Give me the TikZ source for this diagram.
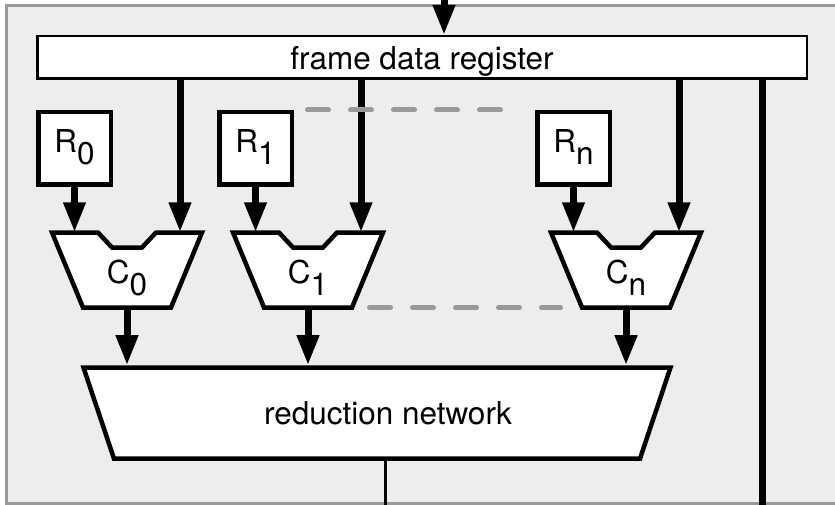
\documentclass[tikz,border=0pt]{standalone}
\usepackage{fontspec}
\setmainfont{TeX Gyre Heros}
\usepackage{xcolor}
\usetikzlibrary{arrows.meta,shapes.geometric,calc}
\definecolor{panel}{HTML}{EDEDED}
\definecolor{dashgray}{HTML}{999999}
\newcommand\lowsub[1]{\lower12pt\hbox{#1}}

\begin{document}
\begin{tikzpicture}[
  x=1pt, y=-1pt,
  font=\fontsize{31.5}{37}\selectfont,
  >={Triangle[length=30pt,width=21pt]},
  arr/.style={->, line width=7pt},
  bus/.style={line width=7pt},
  bar/.style={draw, fill=white, line width=2.5pt, minimum width=769.5pt, minimum height=42.5pt, inner sep=0pt, text depth=0pt},
  rbox/.style={draw, fill=white, line width=4.5pt, minimum size=72.5pt, inner sep=0pt},
  shell/.style={draw, fill=white, line width=4.5pt},
  unit/.style={minimum width=150pt, minimum height=75pt, inner sep=0pt},
  reduce/.style={draw, fill=white, line width=4.5pt, trapezium, shape border rotate=180, trapezium angle=37.6, trapezium stretches body, minimum width=587pt, minimum height=91pt, inner sep=0pt},
  gap/.style={draw=dashgray, line width=5pt, line cap=round, dash pattern=on 21pt off 22pt},
]
\useasboundingbox (0,0) rectangle (835,505);
% surrounding panel
\path[fill=panel, draw=dashgray, line width=2.5pt] (6.5,5.3) rectangle (860,503.3);
% register on top
\node[bar] (fdr) at (422,57.5) {frame data register};
\coordinate (feed) at (444,-2);
\draw[arr] (feed) -- (feed |- fdr.north);
\coordinate (tap) at (762,510);
\draw[bus] (fdr.south -| tap) -- (tap);
% reduction network
\node[reduce] (net) at (377,413) {\hspace*{22pt}reduction network};
\coordinate (res) at (385,510);
\draw[line width=3pt] (net.south -| res) -- (res);
% compare units with their registers
\foreach \i/\x in {0/127,1/308,n/626}{
  \filldraw[shell, shift={(\x,270)}] (-75,-37.5) -- (-29,-37.5) -- (-15,-22.5) -- (15,-22.5) -- (29,-37.5) -- (75,-37.5) -- (44,37.5) -- (-44,37.5) -- cycle;
  \node[unit] (c\i) at (\x,270) {\raisebox{-13pt}[0pt][0pt]{C\lowsub{\i}}};
  \node[rbox] (r\i) at (\x-52.5,148.5) {\raisebox{-4.5pt}[0pt][0pt]{R\lowsub{\i}}};
  \coordinate (d\i) at ($(c\i.north)+(53,0)$);
  \draw[arr] (r\i) -- (r\i |- c\i.north);
  \draw[arr] (fdr.south -| d\i) -- (d\i);
  \draw[arr] (c\i) -- (c\i |- net.north);
}
% ellipsis between unit 1 and unit n
\draw[gap] ([xshift=13.5pt]r1.north east) -- ([xshift=-34.5pt]rn.north west);
\draw[gap] ([xshift=61.5pt]c1.south) -- ([xshift=-65.5pt]cn.south);
\end{tikzpicture}
\end{document}
